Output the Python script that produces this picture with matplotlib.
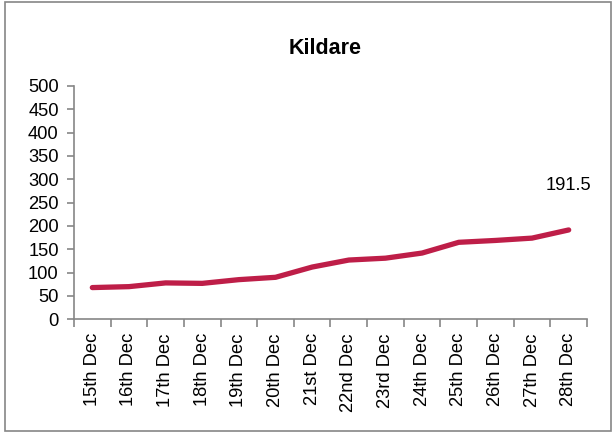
import matplotlib
matplotlib.use("Agg")
import matplotlib.pyplot as plt
from matplotlib.patches import Rectangle

categories = ["15th Dec", "16th Dec", "17th Dec", "18th Dec", "19th Dec", "20th Dec", "21st Dec",
              "22nd Dec", "23rd Dec", "24th Dec", "25th Dec", "26th Dec", "27th Dec", "28th Dec"]
values = [68, 70, 78, 77, 85, 90, 112, 127, 131, 142, 165, 169, 174, 191.5]
yticks = [0, 50, 100, 150, 200, 250, 300, 350, 400, 450, 500]
title = "Kildare"
last_label = "191.5"

plt.rcParams['font.family'] = ['Liberation Sans', 'DejaVu Sans']

fig = plt.figure(figsize=(6.15, 4.32), dpi=100)
ax = fig.add_axes([74/615, 1-319.3/432, (587-74)/615, (319.3-86)/432])

x = list(range(len(categories)))
ax.plot(x, values, color='#BE1E48', lw=3.8, solid_capstyle='round', solid_joinstyle='round')
ax.annotate(last_label, (x[-1], values[-1]), xytext=(0, 26), textcoords='offset points',
            ha='center', va='bottom', fontsize=13.2, color='black')

ax.set_xlim(-0.5, len(categories) - 0.5)
ax.set_ylim(0, 500)
ax.set_yticks(yticks)
ax.set_yticklabels([str(v) for v in yticks], fontsize=13.2)
ax.set_xticks([i - 0.5 for i in range(len(categories) + 1)])
ax.set_xticklabels([])
ax.set_xticks(x, minor=True)
ax.set_xticklabels(categories, minor=True, rotation=90, fontsize=13.2, va='top', ha='center')
ax.tick_params(axis='x', which='minor', length=0, pad=10)
ax.tick_params(axis='x', which='major', length=6, width=1.2, color='#868686', direction='out')
ax.tick_params(axis='y', length=5, width=1.2, color='#868686', direction='out', pad=6)

for s in ['top', 'right']:
    ax.spines[s].set_visible(False)
for s in ['left', 'bottom']:
    ax.spines[s].set_color('#868686')
    ax.spines[s].set_linewidth(1.2)

fig.text(325.5/615, 1-48.5/432, title, ha='center', va='center', fontsize=15.5, fontweight='bold')

fig.patches.append(Rectangle((5/615, 1/432), 606/615, 429/432, transform=fig.transFigure,
                             fill=False, edgecolor='#868686', lw=1.2))

fig.savefig("out.png", dpi=100)
